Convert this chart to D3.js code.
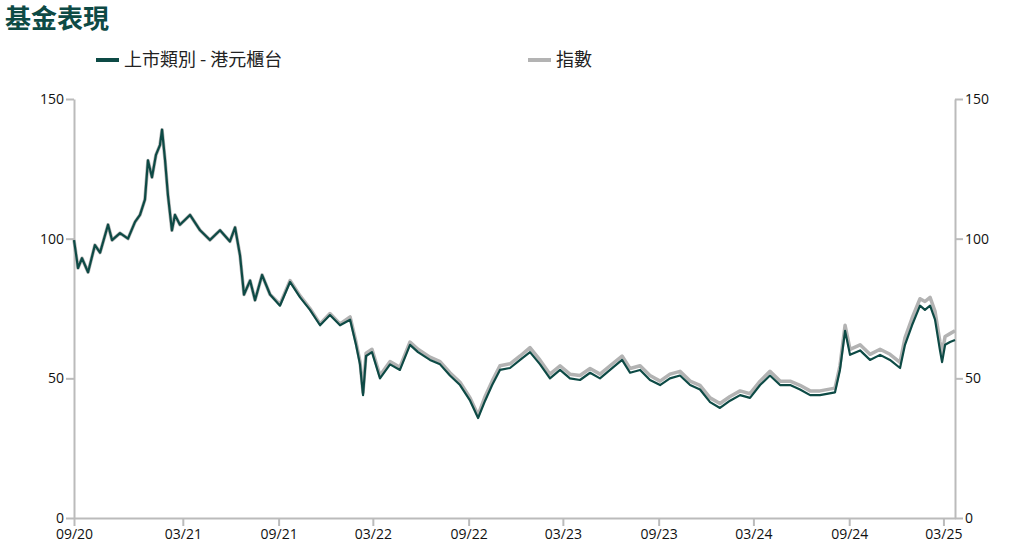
<!DOCTYPE html>
<html><head><meta charset="utf-8">
<script src="https://cdn.jsdelivr.net/npm/d3@7"></script>
<style>body{margin:0;background:#fff;font-family:"Open Sans","Noto Sans CJK TC",sans-serif}</style>
</head><body><div id="wrapper"></div>
<script>
// years elapsed since first point (2020-08-04)
const yearsFromStart = [0,.021,.042,.074,.110,.137,.179,.200,.242,.284,.321,.347,.373,.389,.410,.431,.452,.463,.479,.494,.515,.531,.557,.610,.663,.715,.768,.820,.847,.873,.894,.926,.952,.989,1.031,1.083,1.136,1.189,1.241,1.294,1.346,1.399,1.452,1.483,1.504,1.520,1.536,1.567,1.609,1.662,1.714,1.767,1.809,1.872,1.925,1.977,2.030,2.083,2.125,2.162,2.199,2.240,2.293,2.346,2.398,2.451,2.503,2.556,2.608,2.661,2.714,2.766,2.819,2.882,2.924,2.977,3.029,3.082,3.134,3.187,3.240,3.292,3.345,3.397,3.450,3.503,3.555,3.608,3.660,3.713,3.766,3.818,3.871,3.923,4.002,4.028,4.055,4.081,4.134,4.186,4.239,4.291,4.344,4.370,4.407,4.449,4.475,4.502,4.528,4.554,4.565,4.581,4.607,4.633];
const fund = [99.5,89.5,93,88,97.7,95,105,99.5,102,100,106,108.5,114,128,122,130,133.5,139,128,115.6,103,108.5,105,108.5,103,99.5,103,99,104,94,80,85,78,87,80,76,84.5,79,74.5,69,72.7,69,71,62,55,44,58,59.4,50,55,53,62,59.4,56.6,55,51,47.6,42,35.8,42,47.6,53,53.7,56.6,59.4,55,50,53,50,49.4,52,50,53,56.6,52,53,49.4,47.6,50,51,47.6,46,41.5,39.4,42,44,43,47.6,51,47.6,47.6,46,44,44,45,53,67,58.4,60,56.6,58.4,56.6,53.7,62,69,76,74.5,76,71,60,55.8,62,63,63.7];
const index = [99.5,89.5,93,88,97.7,95,105,99.5,102,100,106,108.5,114,128,122,130,133.5,139,128,115.6,103,108.5,105,108.5,103,99.5,103,99,104,94,80,85,78,87,80,76.5,85,79.5,75,69.5,73.2,69.5,72,63,56,45,59,60.4,51,56,54,63,60.4,57.6,56,52,48.6,43,36.8,43.5,49,54.5,55.2,58,61,56.5,51.5,54.5,51.5,51,53.5,51.5,54.5,58,53.5,54.5,51,49,51.5,52.5,49,47.5,43,41,43.5,45.5,44.5,49,52.5,49,49,47.5,45.5,45.5,46.5,54.5,69,60.4,62,58.6,60.4,58.6,55.7,64.5,71.5,78.5,77.5,79,74,63,59,65,66,67];
const yTicks = [0,50,100,150];
const xTickDates = ["2020-08-04","2021-03-01","2021-09-01","2022-03-01","2022-09-01","2023-03-01","2023-09-01","2024-03-01","2024-09-01","2025-03-01"];
const xTickLabels = ["09/20","03/21","09/21","03/22","09/22","03/23","09/23","03/24","09/24","03/25"];
const seriesNames = ["上市類別 - 港元櫃台","指數"];

const W=1013,H=552, L=74, R=955, T=99, B=518;
const start = new Date(2020,7,4);
const toDate = y => new Date(start.getTime() + y*365.25*864e5);
const svg = d3.select("#wrapper").append("svg").attr("width",W).attr("height",H);
const x = d3.scaleTime().domain([start, toDate(4.633)]).range([L,R]);
const y = d3.scaleLinear().domain([0,150]).range([B,T]);

svg.append("text").attr("x",5).attr("y",28).text("基金表現")
  .attr("font-size",26).attr("font-weight","bold").attr("fill","#0d4a45")
  .attr("font-family","Noto Sans CJK TC");

const leg = [[96,"#0d4a45",seriesNames[0]],[528,"#b3b3b3",seriesNames[1]]];
leg.forEach(([lx,c,t])=>{
  svg.append("line").attr("x1",lx).attr("x2",lx+23).attr("y1",60).attr("y2",60).attr("stroke",c).attr("stroke-width",4);
  svg.append("text").attr("x",lx+28).attr("y",66).text(t).attr("font-size",18).attr("fill","#222")
    .attr("font-family","Noto Sans CJK TC");
});

const axisCol="#bbb";
function styleAxis(g){
  g.selectAll("path,line").attr("stroke",axisCol).attr("stroke-width",2);
  g.selectAll("text").attr("font-size",14).attr("fill","#111").attr("font-family","Open Sans");
}
svg.append("g").attr("transform",`translate(${L},0)`)
  .call(d3.axisLeft(y).tickValues(yTicks).tickSize(8).tickSizeOuter(0).tickPadding(2)).call(styleAxis);
svg.append("g").attr("transform",`translate(${R},0)`)
  .call(d3.axisRight(y).tickValues(yTicks).tickSize(8).tickSizeOuter(0).tickPadding(2)).call(styleAxis);
svg.append("g").attr("transform",`translate(0,${B})`)
  .call(d3.axisBottom(x).tickValues(xTickDates.map(d=>new Date(d+"T00:00")))
    .tickFormat((d,i)=>xTickLabels[i]).tickSize(8).tickSizeOuter(0).tickPadding(3)).call(styleAxis);

const line = d3.line().x((d,i)=>x(toDate(yearsFromStart[i]))).y(d=>y(d));
svg.append("path").attr("d",line(index)).attr("fill","none").attr("stroke","#b3b3b3").attr("stroke-width",3.5).attr("stroke-linejoin","round");
svg.append("path").attr("d",line(fund)).attr("fill","none").attr("stroke","#0d4a45").attr("stroke-width",2.2).attr("stroke-linejoin","round");
</script></body></html>
